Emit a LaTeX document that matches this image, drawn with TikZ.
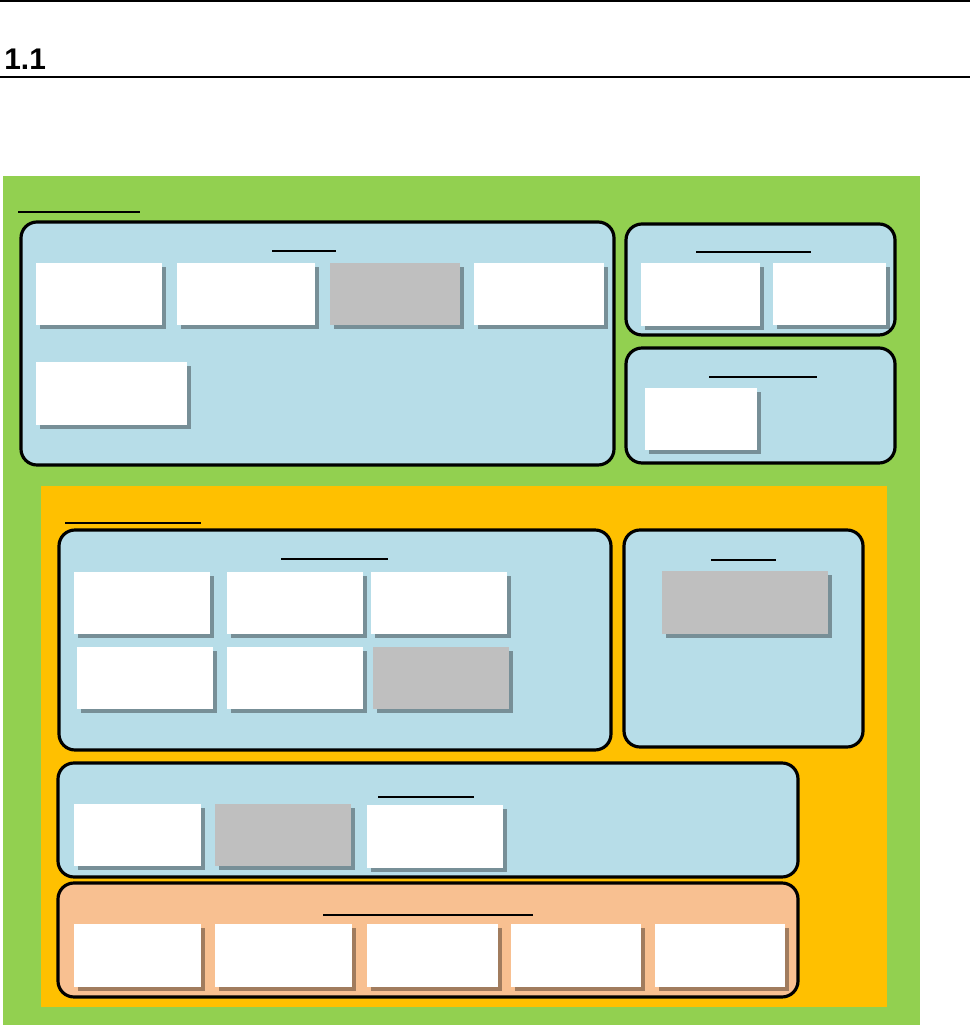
\documentclass[tikz,border=0pt]{standalone}
\usepackage{fontspec}
\setmainfont{Liberation Sans}
\usetikzlibrary{shadows}
\definecolor{zonegreen}{HTML}{92D050}
\definecolor{zoneorange}{HTML}{FFC000}
\definecolor{panelblue}{HTML}{B7DDE8}
\definecolor{panelpeach}{HTML}{F8C091}
\definecolor{cardgrey}{HTML}{BFBFBF}
\tikzset{
  greenzone/.style={fill=zonegreen, draw=none},
  orangezone/.style={fill=zoneorange, draw=none},
  panel/.style={fill=panelblue, draw=black, line width=1.8pt, rounded corners=0.32cm},
  peachpanel/.style={panel, fill=panelpeach},
  card/.style={fill=white, draw=none, drop shadow={shadow xshift=0.07cm, shadow yshift=-0.08cm, fill=black, opacity=0.35}},
  greycard/.style={card, fill=cardgrey},
  grouprule/.style={draw=black, line width=1.1pt},
  titlerule/.style={draw=black, line width=0.8pt},
  pagerule/.style={draw=black, line width=0.8pt},
  secnum/.style={font=\fontsize{17}{20}\selectfont\bfseries, inner sep=0pt, anchor=base west},
}

\begin{document}
\begin{tikzpicture}
\useasboundingbox (0,0) rectangle (19.4,20.5);
\draw[pagerule] (0,20.48) -- (19.4,20.48);
\node[secnum] (secnum) at (0.08,19.1) {1.1};
\draw[pagerule] (0,18.96) -- (19.4,18.96);
% outer zone
\fill[greenzone] (0.06,0) rectangle (18.4,16.98);
\draw[grouprule] (0.36,16.26) -- (2.8,16.26);
% top panels
\draw[panel] (0.42,11.2) rectangle (12.28,16.06);
\draw[titlerule] (5.44,15.48) -- (6.72,15.48);
\fill[card] (0.72,14.0) rectangle (3.24,15.24);
\fill[card] (3.54,14.0) rectangle (6.30,15.24);
\fill[greycard] (6.60,14.0) rectangle (9.20,15.24);
\fill[card] (9.48,14.0) rectangle (12.08,15.24);
\fill[card] (0.72,12.0) rectangle (3.74,13.26);
\draw[panel] (12.52,13.8) rectangle (17.9,16.02);
\draw[titlerule] (13.92,15.46) -- (16.22,15.46);
\fill[card] (12.82,13.98) rectangle (15.2,15.24);
\fill[card] (15.46,14.0) rectangle (17.72,15.24);
\draw[panel] (12.52,11.24) rectangle (17.9,13.54);
\draw[titlerule] (14.18,12.96) -- (16.34,12.96);
\fill[card] (12.9,11.5) rectangle (15.14,12.74);
% inner zone
\fill[orangezone] (0.82,0.36) rectangle (17.74,10.78);
\draw[grouprule] (1.3,10.04) -- (4.02,10.04);
\draw[panel] (1.18,5.5) rectangle (12.22,9.9);
\draw[titlerule] (5.62,9.32) -- (7.76,9.32);
\fill[card] (1.48,7.82) rectangle (4.2,9.06);
\fill[card] (4.54,7.82) rectangle (7.26,9.06);
\fill[card] (7.42,7.82) rectangle (10.14,9.06);
\fill[card] (1.54,6.32) rectangle (4.26,7.56);
\fill[card] (4.54,6.32) rectangle (7.26,7.56);
\fill[greycard] (7.46,6.32) rectangle (10.18,7.56);
\draw[panel] (12.48,5.56) rectangle (17.26,9.9);
\draw[titlerule] (14.22,9.3) -- (15.52,9.3);
\fill[greycard] (13.24,7.82) rectangle (16.56,9.08);
\draw[panel] (1.16,2.96) rectangle (15.96,5.24);
\draw[titlerule] (7.56,4.56) -- (9.48,4.56);
\fill[card] (1.48,3.18) rectangle (4.02,4.42);
\fill[greycard] (4.3,3.18) rectangle (7.02,4.42);
\fill[card] (7.34,3.14) rectangle (10.06,4.4);
\draw[peachpanel] (1.16,0.56) rectangle (15.96,2.84);
\draw[titlerule] (6.46,2.2) -- (10.66,2.2);
\fill[card] (1.48,0.76) rectangle (4.02,2.02);
\fill[card] (4.3,0.76) rectangle (7.04,2.02);
\fill[card] (7.34,0.76) rectangle (9.96,2.02);
\fill[card] (10.22,0.76) rectangle (12.82,2.02);
\fill[card] (13.1,0.76) rectangle (15.7,2.02);
\end{tikzpicture}
\end{document}
